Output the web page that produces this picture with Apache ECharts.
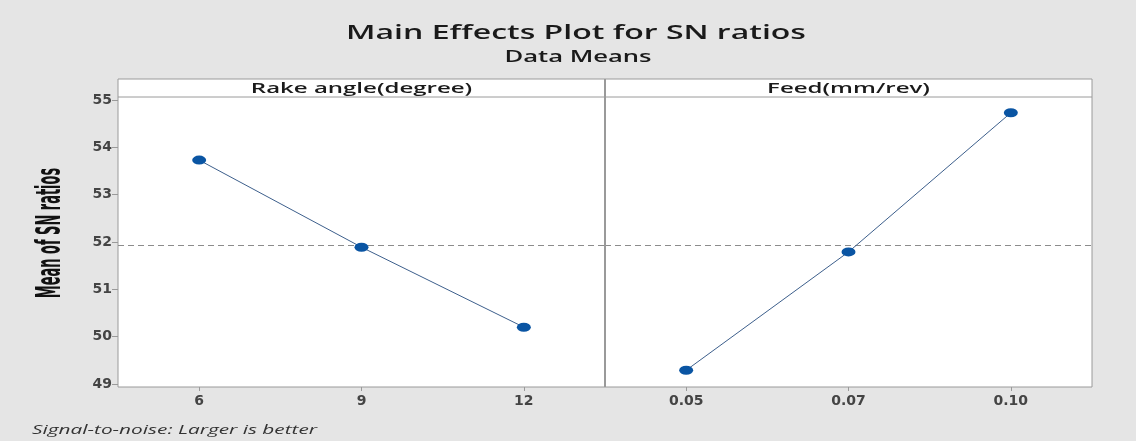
<!DOCTYPE html>
<html>
<head>
<meta charset="utf-8">
<script src="https://cdn.jsdelivr.net/npm/echarts@6/dist/echarts.min.js"></script>
<style>
  html, body { margin: 0; padding: 0; background: #e5e5e5; }
  #chart { width: 1136px; height: 441px; }
</style>
</head>
<body>
<div id="chart"></div>
<script>
// factor levels
const rakeLevels = ['6', '9', '12']
const feedLevels = ['0.05', '0.07', '0.10']
// mean SN ratios
const rakeMeans = [53.73, 51.89, 50.20]
const feedMeans = [49.29, 51.79, 54.73]
const yTicks = [49, 50, 51, 52, 53, 54, 55]

// overall mean (dashed reference line)
const allMeans = rakeMeans.concat(feedMeans)
const grandMean = allMeans.reduce((a, b) => a + b, 0) / allMeans.length

const chart = echarts.init(document.getElementById('chart'))

const font = '"Open Sans", "Noto Sans", sans-serif'
const tickFont = '"DejaVu Sans", "Open Sans", sans-serif'
const labelColor = '#444'
const frameColor = '#9a9a9a'
// the original picture is stretched sideways, texts get widened by this
const stretch = 1.6

// panel layout
const panelLeft = 118
const panelWidth = 487
const stripTop = 79
const stripBottom = 97
const plotTop = 100
const plotBottom = 384
const frameBottom = 387

const makeXAxis = (idx, levels) => ({
  type: 'category',
  gridIndex: idx,
  data: levels,
  boundaryGap: true,
  offset: frameBottom - plotBottom,
  axisLine: { show: false },
  axisTick: { show: true, alignWithLabel: true, length: 4, lineStyle: { color: frameColor } },
  axisLabel: { color: labelColor, fontFamily: tickFont, fontWeight: 'bold', fontSize: 14, margin: 7 },
  splitLine: { show: false }
})

const makeYAxis = (idx, showLabels) => ({
  type: 'value',
  gridIndex: idx,
  min: yTicks[0],
  max: yTicks[yTicks.length - 1],
  interval: 1,
  axisLine: { show: false },
  axisTick: { show: showLabels, length: 6, lineStyle: { color: frameColor } },
  axisLabel: { show: showLabels, color: labelColor, fontFamily: tickFont, fontWeight: 'bold', fontSize: 14, margin: 6 },
  splitLine: { show: false }
})

const makeSeries = (idx, values) => ({
  type: 'line',
  xAxisIndex: idx,
  yAxisIndex: idx,
  data: values,
  // circle path, stretched into the wide dots of the original
  symbol: 'path://M0,50a50,50 0 1,0 100,0a50,50 0 1,0 -100,0z',
  symbolKeepAspect: false,
  symbolSize: [14, 9],
  itemStyle: { color: '#0a55a3' },
  lineStyle: { color: '#3d5f8c', width: 1 },
  z: 5,
  markLine: {
    silent: true,
    symbol: 'none',
    label: { show: false },
    lineStyle: { color: '#8c8c8c', type: [6, 4], width: 1 },
    data: [{ yAxis: grandMean }]
  }
})

// stretched text helper
const wideText = (text, x, y, css) => ({
  type: 'text', z: 10, silent: true,
  x: x, y: y, scaleX: stretch,
  style: { text: text, align: 'center', verticalAlign: 'middle', font: css, fill: '#1a1a1a' }
})

const option = {
  backgroundColor: '#e5e5e5',
  animation: false,
  grid: [
    { left: panelLeft, top: plotTop, width: panelWidth, height: plotBottom - plotTop },
    { left: panelLeft + panelWidth, top: plotTop, width: panelWidth, height: plotBottom - plotTop }
  ],
  xAxis: [makeXAxis(0, rakeLevels), makeXAxis(1, feedLevels)],
  yAxis: [makeYAxis(0, true), makeYAxis(1, false)],
  series: [makeSeries(0, rakeMeans), makeSeries(1, feedMeans)],
  graphic: [
    {
      type: 'rect', z: -10, silent: true,
      shape: { x: panelLeft, y: stripTop, width: panelWidth * 2, height: frameBottom - stripTop },
      style: { fill: '#ffffff', stroke: frameColor, lineWidth: 1 }
    },
    {
      type: 'line', z: 10, silent: true,
      shape: { x1: panelLeft, y1: stripBottom, x2: panelLeft + panelWidth * 2, y2: stripBottom },
      style: { stroke: frameColor, lineWidth: 1 }
    },
    {
      type: 'line', z: 10, silent: true,
      shape: { x1: panelLeft + panelWidth, y1: stripTop, x2: panelLeft + panelWidth, y2: frameBottom },
      style: { stroke: frameColor, lineWidth: 2 }
    },
    wideText('Main Effects Plot for SN ratios', 576, 33, '600 20px ' + font),
    wideText('Data Means', 578, 57, '600 16px ' + font),
    wideText('Rake angle(degree)', panelLeft + panelWidth / 2, (stripTop + stripBottom) / 2 + 0.5, '600 15px ' + font),
    wideText('Feed(mm/rev)', panelLeft + panelWidth * 1.5, (stripTop + stripBottom) / 2 + 0.5, '600 15px ' + font),
    {
      type: 'text', z: 10, silent: true,
      x: 32, y: 430, scaleX: stretch,
      style: {
        text: 'Signal-to-noise: Larger is better', align: 'left', verticalAlign: 'middle',
        font: 'italic 13px ' + font, fill: '#333'
      }
    },
    {
      // y axis title, narrow and thick like the original
      type: 'text', z: 10, silent: true,
      x: 51, y: 233, rotation: Math.PI / 2, scaleX: 0.72, scaleY: 1.7,
      style: {
        text: 'Mean of SN ratios', align: 'center', verticalAlign: 'middle',
        font: 'bold 20px "Liberation Sans Narrow", "DejaVu Sans Condensed", sans-serif', fill: '#111'
      }
    }
  ]
}

chart.setOption(option)
</script>
</body>
</html>
